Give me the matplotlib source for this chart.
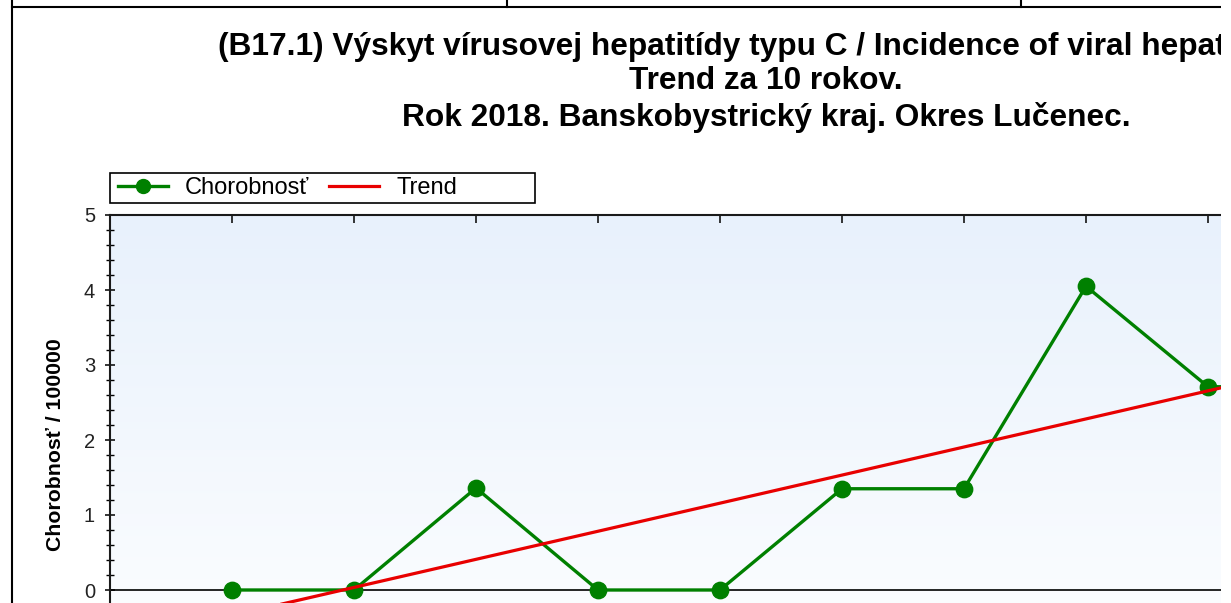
import matplotlib
matplotlib.use('Agg')
import matplotlib.pyplot as plt
import numpy as np
from matplotlib.patches import Rectangle
from matplotlib.lines import Line2D
from matplotlib.ticker import MultipleLocator, FixedLocator

# ---- data ----
years = [2009, 2010, 2011, 2012, 2013, 2014, 2015, 2016, 2017, 2018]
incidence = [0.0, 0.0, 1.36, 0.0, 0.0, 1.35, 1.35, 4.05, 2.71, 2.71]
trend_years = [2009, 2018]
trend_values = [-0.34, 3.03]
legend_labels = ['Chorobnosť', 'Trend']
y_ticks = [0, 1, 2, 3, 4, 5]
title_lines = [
    '(B17.1) Výskyt vírusovej hepatitídy typu C / Incidence of viral hepatitis C',
    'Trend za 10 rokov.',
    'Rok 2018. Banskobystrický kraj. Okres Lučenec.',
]
y_label = 'Chorobnosť / 100000'

plt.rcParams['font.family'] = ['Liberation Sans', 'DejaVu Sans']

W, H = 1231, 603
fig = plt.figure(figsize=(W / 100, H / 100), dpi=100)
fig.patch.set_facecolor('white')


def fx(x):
    return x / W


def fy(y):
    return 1 - y / H


# axes: left 110 px, top 215 px, right clipped at 1221 px, bottom below the picture
ax = fig.add_axes([fx(110), fy(665), (1221 - 110) / W, 450 / H])

# gradient background
top_c = np.array([232, 241, 252]) / 255.0
bot_c = np.array([253, 254, 255]) / 255.0
g = np.linspace(0, 1, 256)[:, None]
grad = (top_c[None, :] * (1 - g) + bot_c[None, :] * g)[:, None, :]
ax.imshow(grad, extent=(0, 1, 0, 1), transform=ax.transAxes, aspect='auto',
          zorder=0, interpolation='bilinear')

ax.axhline(0, color='black', lw=1.2, zorder=2)

l1, = ax.plot(years, incidence, color='#008000', lw=2.4, marker='o', ms=11.8,
              label=legend_labels[0], zorder=3)
l2, = ax.plot(trend_years, trend_values, color='#E80000', lw=2.3,
              label=legend_labels[1], zorder=4)

# ticks
ax.set_xticks(years)
ax.yaxis.set_major_locator(FixedLocator(y_ticks))
ax.yaxis.set_minor_locator(MultipleLocator(0.2))
ax.set_xlim(2008, 2008 + (1221 - 110) / 122.0)
ax.set_ylim(-1, 5)

ax.tick_params(axis='y', which='major', direction='inout', length=7.2, width=1.1,
               pad=7.2, labelsize=14.5, colors='black')
ax.tick_params(axis='y', which='minor', direction='inout', length=5.8, width=1.0,
               colors='black')
ax.tick_params(axis='y', labelcolor='#222222')
ax.tick_params(axis='x', which='major', direction='in', top=True, bottom=True,
               length=5.8, width=1.1, labelbottom=False)
ax.tick_params(axis='x', which='minor', bottom=False, top=False)

for s in ['top', 'left', 'bottom']:
    ax.spines[s].set_color('#1a1a1a')
    ax.spines[s].set_linewidth(1.5)
ax.spines['right'].set_visible(False)

# y label
fig.text(fx(56), fy(445), y_label, rotation=90, ha='center', va='center',
         fontsize=15.3, fontweight='bold', color='black')

# titles
tsize = 22.8
fig.text(fx(218), fy(55), title_lines[0], ha='left', va='baseline',
         fontsize=tsize, fontweight='bold', color='black')
fig.text(fx(766), fy(89), title_lines[1], ha='center', va='baseline',
         fontsize=tsize, fontweight='bold', color='black')
fig.text(fx(766), fy(126), title_lines[2], ha='center', va='baseline',
         fontsize=tsize, fontweight='bold', color='black')

# legend
leg = fig.legend(handles=[l1, l2], loc='center left',
                 bbox_to_anchor=(fx(118), fy(188)), bbox_transform=fig.transFigure,
                 ncol=2, frameon=False, fontsize=17, handlelength=2.12,
                 handletextpad=0.72, columnspacing=0.85, borderpad=0,
                 borderaxespad=0, numpoints=1, markerscale=0.85)
fig.add_artist(Rectangle((fx(110), fy(203)), (535 - 110) / W, 30 / H,
                         transform=fig.transFigure, fill=False,
                         edgecolor='black', lw=1.2, zorder=5))

# surrounding frame lines of the screenshot
fig.add_artist(Line2D([fx(12), fx(1221)], [fy(6.5), fy(6.5)],
                      transform=fig.transFigure, color='black', lw=1.5))
fig.add_artist(Line2D([fx(12), fx(12)], [fy(0), fy(603)],
                      transform=fig.transFigure, color='black', lw=1.5))
for xv in [507, 1021]:
    fig.add_artist(Line2D([fx(xv), fx(xv)], [fy(0), fy(6.5)],
                          transform=fig.transFigure, color='black', lw=1.5))

# white margin on the right edge
fig.add_artist(Rectangle((fx(1221), 0), (W - 1221) / W, 1,
                         transform=fig.transFigure, facecolor='white',
                         edgecolor='none', zorder=100))

fig.savefig('out.png', dpi=100)
